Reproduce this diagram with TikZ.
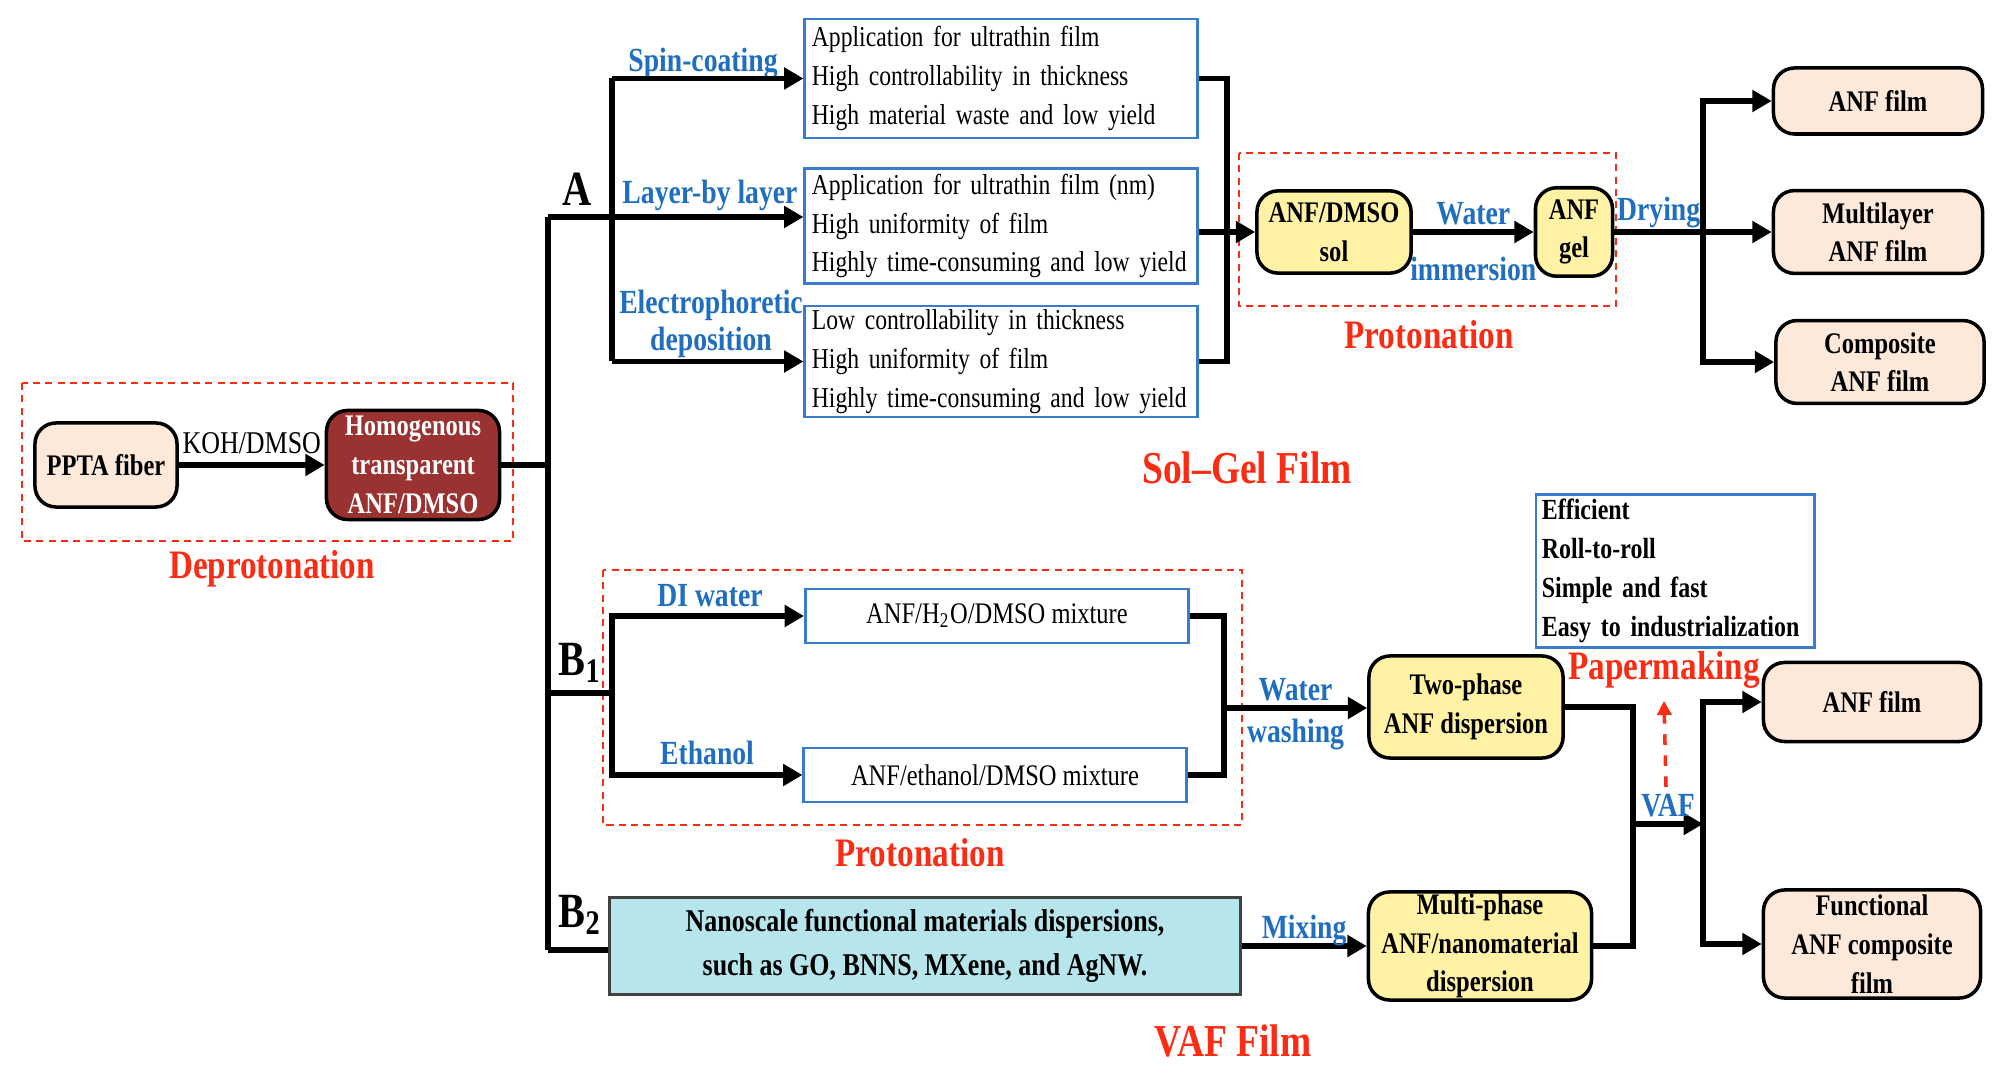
\documentclass[tikz,border=0pt]{standalone}
\usepackage{fontspec}
\setmainfont{Liberation Serif}[FakeStretch=0.82]
\usetikzlibrary{arrows.meta}

\definecolor{lblblue}{RGB}{31,110,192}
\definecolor{boxblue}{RGB}{58,124,204}
\definecolor{lblred}{RGB}{250,45,20}
\definecolor{peach}{RGB}{252,233,218}
\definecolor{sunny}{RGB}{255,242,165}
\definecolor{wine}{RGB}{155,50,50}
\definecolor{aqua}{RGB}{182,229,236}

\begin{document}
\begin{tikzpicture}[x=0.01cm, y=-0.01cm,
    conn/.style={line width=1.5pt, black},
    arr/.style={conn, -{Triangle[length=5.5pt, width=6pt]}},
    redbox/.style={draw=lblred, dashed, line width=0.6pt, dash pattern=on 2pt off 1.5pt},
    infobox/.style={draw=boxblue, line width=0.8pt, fill=white, align=left,
        inner xsep=2pt, inner ysep=1pt, font=\fontsize{8.2}{11}\selectfont},
    mixbox/.style={draw=boxblue, line width=0.8pt, fill=white, align=center,
        minimum height=0.54cm, font=\fontsize{8.5}{11}\selectfont},
    solbox/.style={draw, line width=1pt, rounded corners=6pt, fill=sunny, align=center,
        font=\fontsize{8.5}{11}\selectfont\bfseries},
    filmbox/.style={draw, line width=1pt, rounded corners=6pt, fill=peach, align=center,
        font=\fontsize{8.5}{11}\selectfont\bfseries},
    bluelbl/.style={text=lblblue, font=\fontsize{9.6}{10.5}\selectfont\bfseries, align=center},
    redlbl/.style={text=lblred, font=\fontsize{11.5}{13}\selectfont\bfseries},
    titlelbl/.style={text=lblred, font=\fontsize{13}{15}\selectfont\bfseries},
    tag/.style={font=\fontsize{14}{16}\selectfont\bfseries}]
    \useasboundingbox (0,0) rectangle (2000,1068);

    % Nodes
    \node[filmbox, minimum width=1.40cm, minimum height=0.84cm] (ppta) at (106,465) {PPTA fiber};
    \node[draw, line width=1pt, rounded corners=6pt, fill=wine, text=white, align=center, inner ysep=0pt,
        minimum width=1.73cm, minimum height=1.09cm, font=\fontsize{8.5}{11}\selectfont\bfseries]
        (homo) at (413,465) {Homogenous\\transparent\\ANF/DMSO};

    \node[infobox, text width=3.78cm, minimum height=1.19cm] (spin) at (1001,78.5)
        {Application for ultrathin film\\High controllability in thickness\\High material waste and low yield};
    \node[infobox, text width=3.78cm, minimum height=1.15cm] (lbl) at (1001,226)
        {Application for ultrathin film (nm)\\High uniformity of film\\Highly time-consuming and low yield};
    \node[infobox, text width=3.78cm, minimum height=1.11cm] (epd) at (1001,361.5)
        {Low controllability in thickness\\High uniformity of film\\Highly time-consuming and low yield};

    \node[solbox, minimum width=1.46cm, minimum height=0.82cm] (sol) at (1334,232) {ANF/DMSO\\sol};
    \node[solbox, minimum width=0.77cm, minimum height=0.82cm, inner xsep=1pt] (gel) at (1574,232) {ANF\\gel};

    \node[filmbox, minimum width=2.09cm, minimum height=0.66cm] (film1) at (1878,101) {ANF film};
    \node[filmbox, minimum width=2.09cm, minimum height=0.72cm] (multi) at (1878,232) {Multilayer\\ANF film};
    \node[filmbox, minimum width=2.08cm, minimum height=0.76cm] (comp) at (1880,362) {Composite\\ANF film};

    \node[mixbox, minimum width=3.83cm] (dimix) at (997,616) {ANF/H\textsubscript{2}O/DMSO mixture};
    \node[mixbox, minimum width=3.82cm] (etmix) at (995,775) {ANF/ethanol/DMSO mixture};

    \node[solbox, minimum width=1.94cm, minimum height=1.02cm] (two) at (1466,707) {Two-phase\\ANF dispersion};
    \node[solbox, minimum width=2.23cm, minimum height=1.08cm, inner ysep=0pt] (mph) at (1480,946)
        {Multi-phase\\ANF/nanomaterial\\dispersion};
    \node[draw=black!75, line width=0.8pt, fill=aqua, align=center, minimum width=6.30cm, minimum height=0.84cm,
        font=\fontsize{9}{12.4}\selectfont\bfseries] (nano) at (925,946)
        {Nanoscale functional materials dispersions,\\such as GO, BNNS, MXene, and AgNW.};

    \node[filmbox, minimum width=2.17cm, minimum height=0.79cm] (film2) at (1872,702) {ANF film};
    \node[filmbox, minimum width=2.17cm, minimum height=1.08cm, inner ysep=0pt] (func) at (1872,944)
        {Functional\\ANF composite\\film};

    \node[draw=boxblue, line width=0.8pt, fill=white, align=left, inner xsep=1.7pt, inner ysep=0.5pt,
        text width=2.78cm-3.4pt, minimum height=1.53cm, font=\fontsize{8.3}{11.1}\selectfont\bfseries]
        (adv) at (1675,571) {Efficient\\Roll-to-roll\\Simple and fast\\Easy to industrialization};

    % Labels
    \node[tag] (tagA) at (577,189) {A};
    \node[tag] (tagB1) at (580,663) {B\textsubscript{1}};
    \node[tag] (tagB2) at (580,915) {B\textsubscript{2}};
    \node[bluelbl] (lspin) at (703,64) {Spin-coating};
    \node[bluelbl] (llbl) at (710,195) {Layer-by layer};
    \node[bluelbl] (lepd) at (711,324) {Electrophoretic\\deposition};
    \node[bluelbl] (ldi) at (710,596) {DI water};
    \node[bluelbl] (leth) at (707,753) {Ethanol};
    \node[redlbl] (ldep) at (272,569) {Deprotonation};
    \node[redlbl] (lprot1) at (1429,335) {Protonation};
    \node[redlbl] (lprot2) at (920,853) {Protonation};
    \node[titlelbl] (lsolgel) at (1247,468) {Sol--Gel Film};
    \node[titlelbl] (lvaf) at (1233,1041) {VAF Film};
    \node[redlbl] (paper) at (1664,670) {Papermaking};

    % Junctions
    \coordinate (tA) at (548,217);
    \coordinate (tH) at (548,465);
    \coordinate (tB1) at (548,693);
    \coordinate (tB2) at (548,950);
    \coordinate (sA) at (612,217);
    \coordinate (sB1) at (612,693);
    \coordinate (jR) at (1227,232);
    \coordinate (jD) at (1703,232);
    \coordinate (jW) at (1224,708);
    \coordinate (jV) at (1633,824);
    \coordinate (jF) at (1703,824);
    \coordinate (pmfoot) at (1666,787);

    % Dashed frames
    \draw[redbox] (22,383) rectangle (513,541);
    \draw[redbox] (1239,153) rectangle (1616,306);
    \draw[redbox] (603,570) rectangle (1242,825);

    % Edges
    \draw[arr] (ppta) -- (homo) node[midway, above=-1pt, font=\fontsize{9}{11}\selectfont] {KOH/DMSO};
    \draw[conn] (homo) -- (tH);
    \draw[conn] (tA) -- (tB2);
    \draw[arr] (tA) -- (lbl.west |- tA);
    \draw[conn] (sA |- spin.west) -- (sA |- epd.west);
    \draw[arr] (sA |- spin.west) -- (spin.west);
    \draw[arr] (sA |- epd.west) -- (epd.west);
    \draw[conn] (spin.east) -| (jR) |- (epd.east);
    \draw[arr] (lbl.east |- sol) -- (sol);
    \draw[arr] (sol) -- (gel) node[midway, above=-2pt, bluelbl] {Water}
        node[midway, below=3pt, bluelbl] {immersion};
    \draw[conn] (gel) -- (jD) node[midway, above=-3pt, bluelbl] {Drying};
    \draw[arr] (jD) |- (film1);
    \draw[arr] (jD) -- (multi);
    \draw[arr] (jD) |- (comp);

    \draw[conn] (tB1) -- (sB1);
    \draw[arr] (sB1) |- (dimix);
    \draw[arr] (sB1) |- (etmix);
    \draw[conn] (dimix) -| (jW) |- (etmix);
    \draw[arr] (jW) -- (two.west |- jW) node[midway, above=-2pt, bluelbl] {Water}
        node[midway, below=-1pt, bluelbl] {washing};
    \draw[conn] (tB2) -- (nano.west |- tB2);
    \draw[arr] (nano.east |- mph) -- (mph) node[midway, above=-4pt, bluelbl] {Mixing};
    \draw[conn] (two) -| (jV) |- (mph);
    \draw[arr] (jV) -- (jF) node[midway, above=-2pt, bluelbl] {VAF};
    \draw[arr] (jF) |- (film2);
    \draw[arr] (jF) |- (func);
    \draw[lblred, dashed, line width=1pt, -{Triangle[length=4pt, width=4pt]}] (pmfoot) -- (paper.south);
\end{tikzpicture}
\end{document}
